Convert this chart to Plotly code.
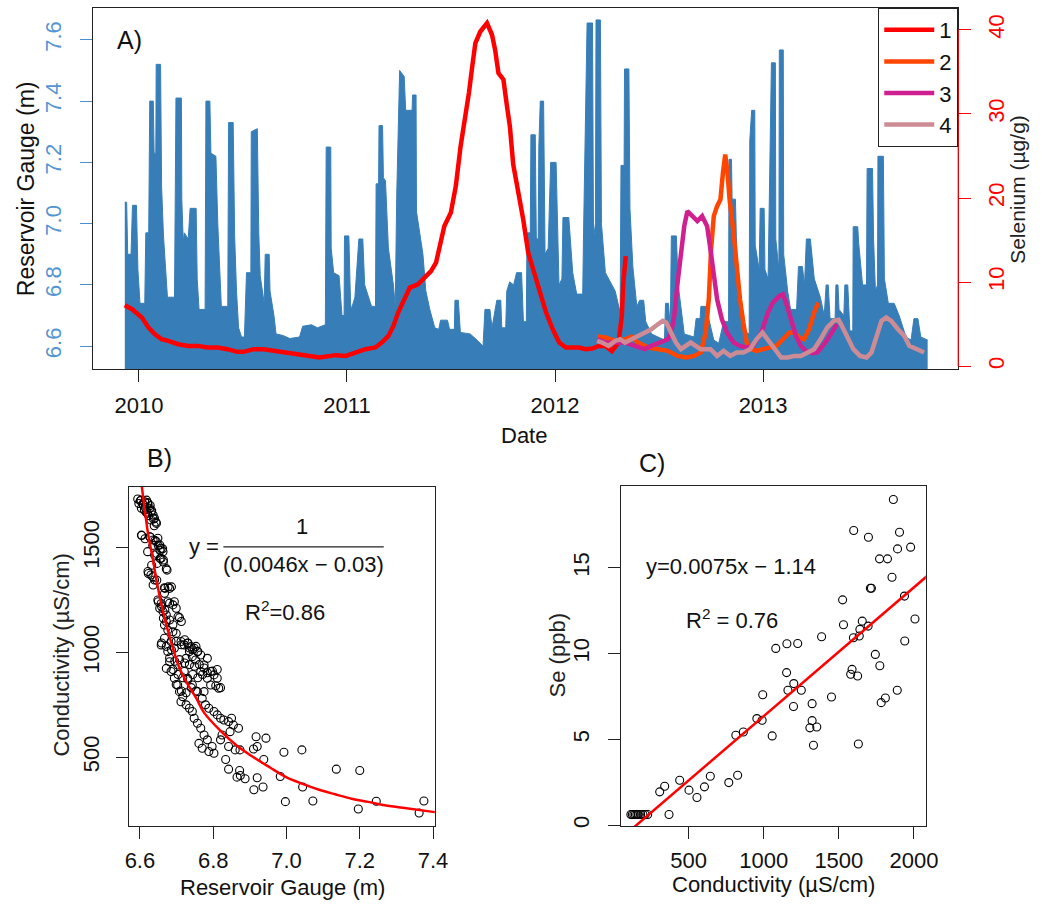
import plotly.graph_objects as go

W, H = 1047, 905
FONT = "Liberation Sans, Arial, sans-serif"

# ---------------- Panel A data ----------------
# reservoir gauge (m) outline, x in decimal years
gauge_year = [2009.932, 2009.941, 2009.946, 2009.962, 2009.969, 2009.988, 2009.995, 2010.005, 2010.028, 2010.033,
              2010.047, 2010.052, 2010.069, 2010.073, 2010.081, 2010.083, 2010.104, 2010.109, 2010.118, 2010.128,
              2010.137, 2010.171, 2010.178, 2010.204, 2010.206, 2010.213, 2010.218, 2010.237, 2010.246, 2010.275,
              2010.280, 2010.289, 2010.318, 2010.322, 2010.341, 2010.346, 2010.370, 2010.379, 2010.393, 2010.396,
              2010.427, 2010.431, 2010.453, 2010.460, 2010.469, 2010.479, 2010.493, 2010.507, 2010.517, 2010.538,
              2010.540, 2010.569, 2010.576, 2010.583, 2010.602, 2010.607, 2010.626, 2010.630, 2010.649, 2010.659,
              2010.692, 2010.725, 2010.772, 2010.787, 2010.829, 2010.858, 2010.896, 2010.900, 2010.922, 2010.924,
              2010.936, 2010.962, 2010.976, 2010.986, 2010.988, 2011.009, 2011.017, 2011.021, 2011.038, 2011.057,
              2011.076, 2011.085, 2011.118, 2011.137, 2011.140, 2011.152, 2011.154, 2011.171, 2011.175, 2011.185,
              2011.199, 2011.223, 2011.232, 2011.239, 2011.253, 2011.275, 2011.282, 2011.313, 2011.315, 2011.332,
              2011.334, 2011.365, 2011.379, 2011.398, 2011.422, 2011.441, 2011.450, 2011.483, 2011.493, 2011.516,
              2011.519, 2011.535, 2011.545, 2011.592, 2011.625, 2011.654, 2011.663, 2011.687, 2011.697, 2011.720,
              2011.739, 2011.744, 2011.763, 2011.768, 2011.782, 2011.801, 2011.815, 2011.839, 2011.848, 2011.862,
              2011.865, 2011.881, 2011.884, 2011.905, 2011.910, 2011.919, 2011.922, 2011.929, 2011.945, 2011.952,
              2011.967, 2011.979, 2012.005, 2012.019, 2012.033, 2012.038, 2012.066, 2012.085, 2012.104, 2012.133,
              2012.137, 2012.154, 2012.180, 2012.185, 2012.194, 2012.197, 2012.218, 2012.223, 2012.242, 2012.289,
              2012.313, 2012.317, 2012.332, 2012.334, 2012.355, 2012.360, 2012.374, 2012.393, 2012.407, 2012.426,
              2012.436, 2012.464, 2012.526, 2012.531, 2012.545, 2012.554, 2012.559, 2012.583, 2012.592, 2012.621,
              2012.668, 2012.678, 2012.697, 2012.701, 2012.725, 2012.744, 2012.763, 2012.787, 2012.810, 2012.834,
              2012.836, 2012.848, 2012.851, 2012.867, 2012.877, 2012.905, 2012.933, 2012.936, 2012.945, 2012.960,
              2012.962, 2012.981, 2012.986, 2013.005, 2013.009, 2013.024, 2013.033, 2013.040, 2013.059, 2013.061,
              2013.076, 2013.078, 2013.097, 2013.099, 2013.118, 2013.132, 2013.161, 2013.170, 2013.189, 2013.199,
              2013.208, 2013.227, 2013.246, 2013.275, 2013.294, 2013.303, 2013.313, 2013.322, 2013.346, 2013.350,
              2013.360, 2013.365, 2013.388, 2013.393, 2013.407, 2013.417, 2013.431, 2013.433, 2013.455, 2013.459,
              2013.478, 2013.497, 2013.500, 2013.526, 2013.531, 2013.540, 2013.550, 2013.552, 2013.578, 2013.583,
              2013.602, 2013.630, 2013.654, 2013.687, 2013.711, 2013.725, 2013.744, 2013.758, 2013.791]
gauge_m = [7.07, 7.07, 6.90, 6.90, 7.06, 7.06, 6.85, 6.74, 6.74, 6.97,
           6.97, 7.40, 7.40, 7.23, 7.23, 7.52, 7.52, 7.12, 6.96, 6.83,
           6.76, 6.76, 7.41, 7.41, 7.08, 6.94, 6.97, 6.95, 7.05, 7.05,
           6.82, 6.72, 6.72, 7.40, 7.40, 7.23, 7.22, 7.00, 6.80, 6.73,
           6.73, 7.33, 7.33, 6.96, 6.78, 6.66, 6.63, 6.63, 6.84, 6.84,
           7.30, 7.31, 6.97, 6.83, 6.74, 6.90, 6.90, 6.78, 6.70, 6.64,
           6.635, 6.625, 6.63, 6.665, 6.67, 6.66, 6.67, 7.25, 7.25, 6.92,
           6.84, 6.83, 6.70, 6.70, 6.96, 6.96, 6.74, 6.72, 6.76, 6.95,
           6.95, 6.80, 6.73, 6.73, 7.13, 7.13, 7.32, 7.32, 7.15, 7.14,
           6.92, 6.80, 6.73, 7.09, 7.50, 7.48, 7.37, 7.37, 7.42, 7.42,
           7.04, 6.90, 6.78, 6.72, 6.66, 6.655, 6.685, 6.685, 6.655, 6.655,
           6.75, 6.75, 6.645, 6.64, 6.62, 6.60, 6.72, 6.72, 6.66, 6.75,
           6.75, 6.66, 6.66, 6.78, 6.81, 6.80, 6.84, 6.84, 6.68, 6.68,
           6.97, 6.97, 7.29, 7.29, 6.95, 6.95, 7.25, 7.40, 7.40, 6.90,
           6.92, 7.20, 7.20, 6.80, 6.82, 7.02, 7.02, 6.84, 6.77, 6.77,
           6.97, 7.655, 7.655, 6.95, 7.00, 7.665, 7.665, 7.00, 6.84, 6.78,
           6.71, 7.19, 7.19, 7.505, 7.505, 7.05, 6.86, 6.73, 6.75, 6.75,
           6.68, 6.64, 6.62, 6.74, 6.74, 6.66, 6.96, 6.96, 6.80, 6.64,
           6.63, 6.69, 6.69, 6.73, 6.73, 6.67, 6.62, 6.61, 6.68, 6.68,
           7.21, 7.21, 7.08, 7.08, 6.80, 6.65, 6.64, 7.27, 7.37, 7.37,
           6.93, 6.85, 7.05, 7.05, 6.85, 6.82, 7.27, 7.525, 7.525, 6.95,
           6.85, 7.567, 7.567, 6.90, 6.78, 6.72, 6.72, 6.86, 6.86, 6.80,
           6.95, 6.95, 6.82, 6.76, 6.70, 6.80, 6.80, 6.69, 6.69, 6.80,
           6.80, 6.72, 6.70, 6.80, 6.80, 6.65, 6.65, 6.99, 6.99, 6.94,
           6.80, 6.80, 7.18, 7.18, 6.95, 6.78, 6.80, 7.22, 7.22, 6.82,
           6.74, 6.74, 6.70, 6.63, 6.62, 6.69, 6.69, 6.63, 6.62]

# selenium (ug/g) series, (decimal year, value)
se1_pts = [(2009.932, 7.24), (2009.967, 6.77), (2010.014, 5.78), (2010.046, 4.59), (2010.077, 3.80), (2010.109, 3.20),
           (2010.141, 3.00), (2010.188, 2.61), (2010.236, 2.41), (2010.283, 2.41), (2010.330, 2.22), (2010.378, 2.22),
           (2010.425, 2.02), (2010.472, 1.70), (2010.504, 1.70), (2010.551, 2.02), (2010.599, 2.02), (2010.646, 1.82),
           (2010.693, 1.62), (2010.757, 1.42), (2010.820, 1.20), (2010.867, 1.03), (2010.946, 1.31), (2010.994, 1.22),
           (2011.041, 1.63), (2011.089, 2.02), (2011.136, 2.22), (2011.167, 2.81), (2011.199, 3.60), (2011.223, 4.78),
           (2011.246, 6.37), (2011.278, 8.16), (2011.302, 9.34), (2011.341, 9.73), (2011.373, 10.53), (2011.404, 11.31),
           (2011.428, 12.31), (2011.444, 14.28), (2011.468, 16.66), (2011.499, 18.24), (2011.523, 21.4), (2011.546, 26.15),
           (2011.562, 28.52), (2011.586, 32.49), (2011.602, 35.65), (2011.617, 38.42), (2011.641, 39.80), (2011.673, 40.80),
           (2011.697, 39.41), (2011.712, 37.63), (2011.728, 34.86), (2011.752, 34.07), (2011.768, 31.1), (2011.783, 28.5),
           (2011.799, 24.0), (2011.820, 21.4), (2011.847, 17.45), (2011.871, 13.5), (2011.894, 11.5), (2011.925, 8.75),
           (2011.957, 6.37), (2011.989, 4.39), (2012.020, 2.81), (2012.052, 2.22), (2012.084, 2.22), (2012.115, 2.22),
           (2012.147, 2.02), (2012.179, 2.10), (2012.210, 2.41), (2012.242, 2.41), (2012.273, 1.8), (2012.305, 2.81),
           (2012.321, 5.97), (2012.328, 9.93), (2012.340, 13.09)]
se2_pts = [(2012.202, 3.52), (2012.242, 3.40), (2012.289, 3.00), (2012.336, 3.20), (2012.368, 3.52), (2012.399, 2.81),
           (2012.447, 2.22), (2012.494, 2.02), (2012.542, 1.82), (2012.589, 1.22), (2012.629, 1.03), (2012.668, 1.22),
           (2012.700, 1.63), (2012.724, 4.0), (2012.739, 7.95), (2012.750, 13.89), (2012.763, 17.84), (2012.779, 19.03),
           (2012.795, 19.82), (2012.807, 22.99), (2012.818, 25.16), (2012.829, 22.99), (2012.839, 19.82), (2012.858, 15.87),
           (2012.873, 11.9), (2012.889, 7.95), (2012.905, 5.19), (2012.921, 2.81), (2012.944, 2.02), (2012.968, 1.82),
           (2013.000, 2.02), (2013.032, 2.22), (2013.063, 2.41), (2013.095, 3.20), (2013.126, 4.0), (2013.150, 4.0),
           (2013.174, 3.40), (2013.197, 3.20), (2013.221, 4.39), (2013.245, 6.37), (2013.265, 7.56)]
se3_pts = [(2012.202, 3.20), (2012.242, 2.81), (2012.289, 2.81), (2012.336, 2.81), (2012.384, 2.41), (2012.431, 2.02),
           (2012.463, 2.41), (2012.510, 2.81), (2012.542, 3.20), (2012.558, 4.0), (2012.573, 5.97), (2012.589, 9.93),
           (2012.605, 13.5), (2012.621, 16.65), (2012.636, 18.43), (2012.660, 17.84), (2012.684, 17.25), (2012.707, 17.84),
           (2012.731, 16.65), (2012.747, 13.89), (2012.763, 10.72), (2012.779, 7.95), (2012.802, 5.58), (2012.826, 4.0),
           (2012.858, 2.81), (2012.889, 2.41), (2012.921, 2.22), (2012.952, 2.41), (2012.992, 4.0), (2013.023, 6.37),
           (2013.047, 7.56), (2013.079, 8.35), (2013.095, 8.55), (2013.110, 7.56), (2013.134, 5.58), (2013.158, 3.60),
           (2013.181, 2.41), (2013.205, 1.82), (2013.237, 1.54), (2013.260, 1.63), (2013.300, 2.81), (2013.332, 4.0),
           (2013.355, 4.98)]
se4_pts = [(2012.202, 3.0), (2012.226, 2.81), (2012.257, 2.41), (2012.289, 3.0), (2012.313, 3.20), (2012.336, 2.81),
           (2012.368, 3.20), (2012.399, 3.60), (2012.431, 4.0), (2012.463, 4.39), (2012.494, 4.98), (2012.518, 5.38),
           (2012.534, 5.19), (2012.558, 4.0), (2012.581, 2.81), (2012.605, 2.02), (2012.629, 2.41), (2012.652, 2.81),
           (2012.676, 2.41), (2012.700, 2.02), (2012.747, 2.02), (2012.779, 1.22), (2012.810, 1.82), (2012.842, 1.22),
           (2012.873, 1.63), (2012.905, 1.63), (2012.937, 2.02), (2012.968, 3.20), (2012.997, 4.0), (2013.023, 3.20),
           (2013.055, 2.02), (2013.087, 1.03), (2013.118, 1.03), (2013.150, 1.22), (2013.181, 1.22), (2013.213, 1.63),
           (2013.245, 2.02), (2013.276, 3.20), (2013.308, 4.59), (2013.340, 5.38), (2013.363, 5.50), (2013.379, 4.78),
           (2013.403, 3.60), (2013.434, 2.02), (2013.466, 1.22), (2013.497, 1.03), (2013.521, 1.63), (2013.545, 3.60),
           (2013.569, 5.38), (2013.592, 5.78), (2013.616, 5.38), (2013.648, 4.39), (2013.679, 3.60), (2013.703, 2.41),
           (2013.734, 2.02), (2013.758, 1.82), (2013.774, 1.63)]
series_names = ["1", "2", "3", "4"]
series_colors = ["#FF0000", "#FF4500", "#D02090", "#CD8C95"]
year_ticks = [2010, 2011, 2012, 2013]

# ---------------- Panel B data ----------------
b_points = [(6.594, 1732), (6.597, 1711), (6.603, 1727), (6.609, 1704), (6.613, 1719), (6.618, 1727), (6.622, 1711),
            (6.604, 1688), (6.612, 1680), (6.627, 1688), (6.631, 1672), (6.621, 1664), (6.636, 1656), (6.640, 1640),
            (6.630, 1632), (6.645, 1616), (6.639, 1605), (6.604, 1560), (6.627, 1552), (6.636, 1537), (6.645, 1529),
            (6.654, 1513), (6.658, 1497), (6.663, 1481), (6.649, 1545), (6.621, 1481), (6.640, 1465), (6.658, 1449),
            (6.664, 1441), (6.647, 1425), (6.674, 1393), (6.622, 1386), (6.630, 1370), (6.640, 1346), (6.636, 1322),
            (6.667, 1309), (6.681, 1306), (6.667, 1282), (6.649, 1250), (6.658, 1234), (6.676, 1242), (6.690, 1227),
            (6.694, 1242), (6.654, 1211), (6.663, 1195), (6.672, 1179), (6.708, 1166), (6.681, 1155), (6.667, 1131),
            (6.676, 1107), (6.690, 1099), (6.699, 1091), (6.658, 1036), (6.667, 1068), (6.685, 1052), (6.676, 1004),
            (6.694, 1020), (6.712, 1052), (6.721, 1036), (6.730, 1044), (6.739, 1028), (6.748, 1020), (6.757, 1004),
            (6.766, 988), (6.735, 1004), (6.743, 980), (6.726, 972), (6.752, 964), (6.775, 940), (6.793, 909),
            (6.802, 893), (6.815, 829), (6.681, 956), (6.672, 924), (6.685, 909), (6.694, 877), (6.703, 845),
            (6.708, 813), (6.717, 789), (6.712, 765), (6.726, 750), (6.735, 734), (6.743, 718), (6.748, 686),
            (6.757, 662), (6.766, 638), (6.775, 606), (6.784, 583), (6.797, 551), (6.703, 940), (6.721, 909),
            (6.730, 877), (6.743, 845), (6.757, 813), (6.770, 781), (6.779, 750), (6.788, 734), (6.802, 718),
            (6.811, 702), (6.820, 686), (6.829, 678), (6.842, 670), (6.850, 686), (6.855, 654), (6.869, 638),
            (6.846, 622), (6.824, 606), (6.820, 583), (6.842, 551), (6.860, 535), (6.873, 535), (6.766, 909),
            (6.784, 877), (6.793, 845), (6.775, 813), (6.807, 841), (6.784, 972), (6.811, 877), (6.761, 566),
            (6.770, 543), (6.788, 527), (6.802, 519),
            (6.917, 598), (6.944, 591), (6.920, 551), (6.910, 539), (6.993, 524), (7.042, 535), (6.938, 489),
            (6.834, 489), (6.842, 443), (6.872, 437), (6.865, 405), (6.874, 413), (6.887, 397), (6.920, 402),
            (6.911, 345), (6.936, 358), (6.983, 408), (7.044, 358), (7.136, 443), (7.200, 437), (6.997, 288),
            (7.072, 291), (7.196, 253), (7.245, 290), (7.362, 234), (7.375, 291),
            (6.601, 1724), (6.608, 1709), (6.614, 1693), (6.621, 1716), (6.628, 1701), (6.617, 1669), (6.624, 1653),
            (6.632, 1677), (6.637, 1637), (6.644, 1622), (6.605, 1558), (6.614, 1543), (6.628, 1551), (6.641, 1535),
            (6.650, 1511), (6.655, 1487), (6.662, 1495), (6.635, 1511), (6.646, 1472), (6.655, 1448), (6.664, 1432),
            (6.632, 1416), (6.623, 1377), (6.635, 1361), (6.646, 1345), (6.672, 1400), (6.677, 1313), (6.668, 1306),
            (6.686, 1313), (6.650, 1242), (6.659, 1219), (6.668, 1203), (6.681, 1235), (6.699, 1211), (6.664, 1163),
            (6.672, 1148), (6.690, 1132), (6.704, 1171), (6.713, 1148), (6.659, 1045), (6.672, 1029), (6.686, 1013),
            (6.699, 1053), (6.713, 1037), (6.722, 1061), (6.731, 1045), (6.735, 1021), (6.744, 1013), (6.753, 1029),
            (6.758, 1005), (6.681, 974), (6.695, 958), (6.708, 966), (6.722, 950), (6.735, 942), (6.749, 934),
            (6.762, 942), (6.775, 926), (6.690, 919), (6.704, 895), (6.717, 879), (6.731, 871), (6.744, 895),
            (6.758, 879), (6.771, 895), (6.784, 903), (6.798, 911), (6.811, 919), (6.820, 832), (6.699, 847),
            (6.713, 816), (6.726, 808), (6.740, 832), (6.753, 816)]
b_fit_x = [6.605, 6.614, 6.623, 6.635, 6.646, 6.659, 6.672, 6.690, 6.708, 6.731, 6.753, 6.775, 6.820,
           6.865, 6.910, 6.954, 6.999, 7.044, 7.089, 7.133, 7.178, 7.223, 7.268, 7.312, 7.405]
b_fit_y = [1795, 1669, 1558, 1448, 1337, 1226, 1132, 1021, 926, 847, 784, 713, 626,
           555, 500, 452, 405, 373, 345, 323, 302, 287, 271, 260, 238]

# ---------------- Panel C data ----------------
c_cond = [1863, 1599, 1697, 1904, 1891, 1978, 1771, 1824, 1854, 1710,
          1717, 1525, 1937, 1531, 1656, 1695, 1640, 1636, 1597, 2007,
          1385, 1154, 1226, 1080, 1939, 1743, 1773, 1588, 1579, 1625,
          1152, 1200, 1161, 1250, 1198, 993, 1451, 1322, 1889, 1810,
          1782, 954, 989, 1322, 1307, 1353, 1056, 814, 864, 1331,
          1630, 644, 826, 767, 440, 340, 307, 502, 605, 555,
          369, 227, 115, 125, 135, 145, 155, 165, 180, 195, 210]
c_se = [18.98, 17.17, 16.78, 17.07, 16.1, 16.2, 15.52, 15.52, 14.45, 13.81,
        13.81, 13.13, 13.35, 11.68, 11.89, 11.6, 11.41, 11.02, 10.92, 12.01,
        10.98, 10.57, 10.59, 10.3, 10.73, 9.95, 9.29, 9.08, 8.79, 8.69,
        8.89, 8.25, 7.86, 7.86, 6.91, 7.6, 7.47, 7.08, 7.86, 7.41,
        7.14, 6.21, 6.11, 6.09, 5.67, 5.72, 5.2, 5.24, 5.43, 4.66,
        4.73, 2.85, 2.91, 2.48, 2.62, 2.27, 1.94, 2.04, 2.23, 1.61,
        0.62, 0.62, 0.62, 0.62, 0.62, 0.62, 0.62, 0.62, 0.62, 0.62, 0.62]
c_slope, c_intercept = 0.0075, -1.14
c_line_x = [0, 2100]

# ---------------- figure ----------------
def px(x):
    return x / W


def py(y):
    return 1 - y / H


fig = go.Figure()

fig.add_trace(go.Scatter(x=gauge_year, y=gauge_m, mode="lines", fill="tozeroy",
                         line=dict(color="#377EB8", width=1), fillcolor="#377EB8",
                         showlegend=False, hoverinfo="skip", xaxis="x", yaxis="y"))
for name, col, pts in zip(series_names, series_colors, [se1_pts, se2_pts, se3_pts, se4_pts]):
    fig.add_trace(go.Scatter(x=[p[0] for p in pts], y=[p[1] for p in pts], mode="lines", name=name,
                             line=dict(color=col, width=4.5), xaxis="x", yaxis="y2"))

fig.add_trace(go.Scatter(x=[p[0] for p in b_points], y=[p[1] for p in b_points], mode="markers",
                         marker=dict(symbol="circle-open", size=8, color="black", line=dict(width=1.1)),
                         showlegend=False, xaxis="x2", yaxis="y3"))
fig.add_trace(go.Scatter(x=b_fit_x, y=b_fit_y, mode="lines", line=dict(color="#FF0000", width=2.5, shape="spline"),
                         showlegend=False, xaxis="x2", yaxis="y3"))

fig.add_trace(go.Scatter(x=c_cond, y=c_se, mode="markers",
                         marker=dict(symbol="circle-open", size=8, color="black", line=dict(width=1.1)),
                         showlegend=False, xaxis="x3", yaxis="y4"))
fig.add_trace(go.Scatter(x=c_line_x, y=[c_slope * v + c_intercept for v in c_line_x], mode="lines",
                         line=dict(color="#FF0000", width=2.5), showlegend=False, xaxis="x3", yaxis="y4"))

tickfont = dict(family=FONT, size=22, color="#111")
base = dict(showline=True, linecolor="#222", linewidth=1, mirror=True, ticks="outside", ticklen=12,
            tickcolor="#222", showgrid=False, zeroline=False, tickfont=tickfont)

fig.update_layout(
    width=W, height=H, margin=dict(l=0, r=0, t=0, b=0), autosize=False,
    paper_bgcolor="white", plot_bgcolor="white",
    font=dict(family=FONT, size=22, color="#111"),
    xaxis=dict(base, domain=[px(90), px(970)], range=[2009.777, 2013.938], anchor="y",
               tickvals=year_ticks, ticktext=[str(v) for v in year_ticks], ticklabelstandoff=4),
    yaxis=dict(base, domain=[py(370), py(8)], range=[6.525, 7.704], anchor="x",
               tickvals=[6.6, 6.8, 7.0, 7.2, 7.4, 7.6], ticktext=["6.6", "6.8", "7.0", "7.2", "7.4", "7.6"],
               tickangle=-90, tickcolor="#4A8FD0", tickfont=dict(family=FONT, size=22, color="#5596D2"),
               ticklabelstandoff=10),
    yaxis2=dict(overlaying="y", side="right", anchor="x", range=[-0.36, 42.6], showline=False,
                showgrid=False, zeroline=False, ticks="outside", ticklen=12, tickcolor="#FF0000",
                tickvals=[0, 10, 20, 30, 40], tickangle=-90,
                tickfont=dict(family=FONT, size=22, color="#FF0000"), ticklabelstandoff=6),
    xaxis2=dict(base, domain=[px(127), px(438)], range=[6.570, 7.405], anchor="y3",
                tickvals=[6.6, 6.8, 7.0, 7.2, 7.4], ticktext=["6.6", "6.8", "7.0", "7.2", "7.4"],
                ticklabelstandoff=2),
    yaxis3=dict(base, domain=[py(828), py(488)], range=[171, 1790], anchor="x2",
                tickvals=[500, 1000, 1500], tickangle=-90, ticklabelstandoff=8),
    xaxis3=dict(base, domain=[px(627), px(937)], range=[48, 2079], anchor="y4",
                tickvals=[500, 1000, 1500, 2000], ticklabelstandoff=2),
    yaxis4=dict(base, domain=[py(828), py(487)], range=[-0.06, 19.77], anchor="x3",
                tickvals=[0, 5, 10, 15], tickangle=-90, ticklabelstandoff=10),
    legend=dict(x=px(970), xanchor="right", y=py(8), yanchor="top", bgcolor="white",
                bordercolor="#222", borderwidth=1, font=dict(family=FONT, size=22, color="#111"),
                itemwidth=50, tracegroupgap=0),
)

shapes = [
    dict(type="line", xref="paper", yref="y2", x0=px(970), x1=px(970), y0=0, y1=40,
         line=dict(color="#FF0000", width=1.2)),
    dict(type="line", xref="paper", yref="paper", x0=px(223), x1=px(386), y0=py(548), y1=py(548),
         line=dict(color="#222", width=1.2)),
]
fig.update_layout(shapes=shapes)

def ann(text, x, y, size=22, angle=0, color="#111"):
    return dict(text=text, x=px(x), y=py(y), xref="paper", yref="paper", showarrow=False,
                xanchor="center", yanchor="middle", textangle=angle,
                font=dict(family=FONT, size=size, color=color))

annotations = [
    ann("A)", 128, 40, 25),
    ann("B)", 158, 459, 25),
    ann("C)", 659, 464, 25),
    ann("Date", 529, 436),
    ann("Reservoir Gauge (m)", 22, 189, 23, -90),
    ann("Selenium (µg/g)", 1030, 190, 21, -90, "#222"),
    ann("Reservoir Gauge (m)", 283, 889),
    ann("Conductivity (µS/cm)", 59, 657, 22, -90, "#222"),
    ann("Conductivity (µS/cm)", 782, 886),
    ann("Se (ppb)", 563, 657, 22, -90, "#222"),
    ann("y =", 203, 548),
    ann("1", 303, 528),
    ann("(0.0046x − 0.03)", 304, 566),
    ann("R<sup>2</sup>=0.86", 286, 612),
    ann("y=0.0075x − 1.14", 739, 568),
    ann("R<sup>2</sup> = 0.76", 740, 620),
]
fig.update_layout(annotations=annotations)

fig.write_html("out.html", config={"displayModeBar": False, "responsive": False},
               post_script="document.documentElement.style.overflow='hidden';"
                           "document.body.style.overflow='hidden';"
                           "document.body.style.margin='0';document.body.style.padding='0';")
